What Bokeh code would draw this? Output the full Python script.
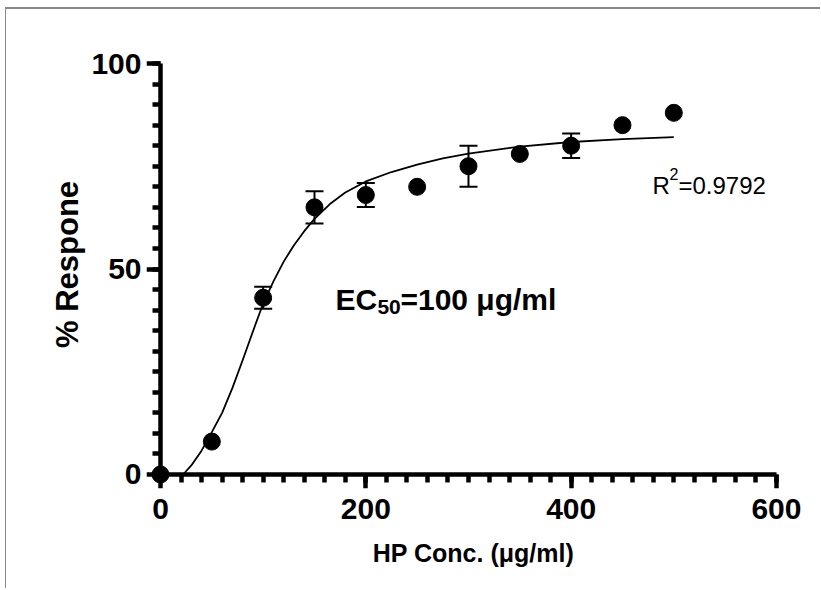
from bokeh.plotting import figure
from bokeh.models import ColumnDataSource, Whisker, TeeHead, FixedTicker, Range1d, Label, LinearAxis
from bokeh.embed import file_html
from bokeh.resources import INLINE

# ---- data ----
conc = [0, 50, 100, 150, 200, 250, 300, 350, 400, 450, 500]
response = [0, 8, 43, 65, 68, 70, 75, 78, 80, 85, 88]
sem = [0, 0, 2.7, 3.9, 2.9, 0, 5.0, 0, 3.0, 0, 0]

# fitted curve
fit_x = [22, 30, 40, 50, 60, 70, 80, 90, 100, 110, 120, 130, 140, 150, 165, 180,
         200, 225, 250, 275, 300, 350, 400, 450, 500]
fit_y = [0, 2.2, 5.8, 10.3, 15.0, 21.0, 27.8, 34.8, 41.6, 47.0, 51.8, 55.8, 59.2,
         62.2, 65.8, 68.6, 71.3, 73.6, 75.4, 76.9, 78.1, 79.8, 80.9, 81.6, 82.1]

x_major = [0, 200, 400, 600]
x_minor = list(range(0, 601, 20))
y_major = [0, 50, 100]
y_minor = list(range(0, 101, 5))

x_title = "HP Conc. (\u03bcg/ml)"
y_title = "% Respone"
ec50_parts = ["EC", "50", "=100 \u03bcg/ml"]
r2_parts = ["R", "2", "=0.9792"]

FONT = "Liberation Sans"

p = figure(width=815, height=581,
           x_range=Range1d(-13.64, 623.4), y_range=Range1d(-3.41, 105.6),
           output_backend="svg", toolbar_location=None,
           min_border_left=140, min_border_right=21, min_border_top=31, min_border_bottom=102)
p.margin = (7, 0, 0, 5)
p.styles = {"border-top": "2px solid #8a8a8a", "border-left": "1px solid #8a8a8a"}

p.outline_line_color = None
p.grid.visible = False
p.background_fill_color = "white"
p.border_fill_color = "white"

# axes drawn through the origin: line + ticks
fx = p.xaxis[0]
fy = p.yaxis[0]
for ax in (fx, fy):
    ax.fixed_location = 0
    ax.axis_line_width = 4.5
    ax.axis_line_color = "black"
    ax.major_tick_line_width = 4.5
    ax.minor_tick_line_width = 4.5
    ax.major_tick_line_color = "black"
    ax.minor_tick_line_color = "black"
    ax.major_tick_in = 0
    ax.minor_tick_in = 0
    ax.major_tick_out = 14
    ax.minor_tick_out = 8
    ax.major_label_text_color = None
    ax.major_label_text_font_size = "1px"
fx.ticker = FixedTicker(ticks=x_major, minor_ticks=x_minor)
fy.ticker = FixedTicker(ticks=y_major, minor_ticks=y_minor)
fx.bounds = (0, 600)
fy.bounds = (0, 100)

# side axes that carry tick labels and titles
def label_axis(ticks, title, title_size, standoff, title_standoff):
    a = LinearAxis(ticker=FixedTicker(ticks=ticks, minor_ticks=[]))
    a.axis_line_color = None
    a.major_tick_line_color = None
    a.minor_tick_line_color = None
    a.major_tick_out = 0
    a.major_tick_in = 0
    a.minor_tick_out = 0
    a.minor_tick_in = 0
    a.major_label_text_font = FONT
    a.major_label_text_font_style = "bold"
    a.major_label_text_font_size = "30px"
    a.major_label_text_color = "black"
    a.major_label_standoff = standoff
    a.axis_label = title
    a.axis_label_text_font = FONT
    a.axis_label_text_font_style = "bold"
    a.axis_label_text_font_size = title_size
    a.axis_label_text_color = "black"
    a.axis_label_standoff = title_standoff
    return a

lx = label_axis(x_major, x_title, "25px", 10, 17)
ly = label_axis(y_major, y_title, "31px", 5, 3)
p.below = [lx, fx]
p.left = [ly, fy]

# fitted curve
p.line(fit_x, fit_y, line_color="black", line_width=1.8)

# error bars
lower = [r - e for r, e in zip(response, sem)]
upper = [r + e for r, e in zip(response, sem)]
src_err = ColumnDataSource(dict(
    x=[c for c, e in zip(conc, sem) if e > 0],
    lower=[l for l, e in zip(lower, sem) if e > 0],
    upper=[u for u, e in zip(upper, sem) if e > 0],
))
w = Whisker(source=src_err, base="x", lower="lower", upper="upper", dimension="height",
            line_color="black", line_width=2,
            upper_head=TeeHead(size=18, line_width=2, line_color="black"),
            lower_head=TeeHead(size=18, line_width=2, line_color="black"))
p.add_layout(w)

# points
p.scatter(conc, response, size=17, color="black")

# annotations
def lab(x, y, text, size, style, xoff=0):
    p.add_layout(Label(x=x, y=y, x_offset=xoff, text=text, text_font=FONT,
                       text_font_size=size, text_font_style=style, text_color="black",
                       text_align="left", text_baseline="alphabetic"))

lab(170.4, 42.5, ec50_parts[0], "30px", "bold")
lab(170.4, 40.8, ec50_parts[1], "21px", "bold", xoff=42)
lab(170.4, 42.5, ec50_parts[2], "30px", "bold", xoff=65)

lab(479.2, 70.4, r2_parts[0], "24px", "normal")
lab(479.2, 73.0, r2_parts[1], "16px", "normal", xoff=17)
lab(479.2, 70.4, r2_parts[2], "24px", "normal", xoff=26)

open("out.html", "w").write(file_html(p, INLINE))
